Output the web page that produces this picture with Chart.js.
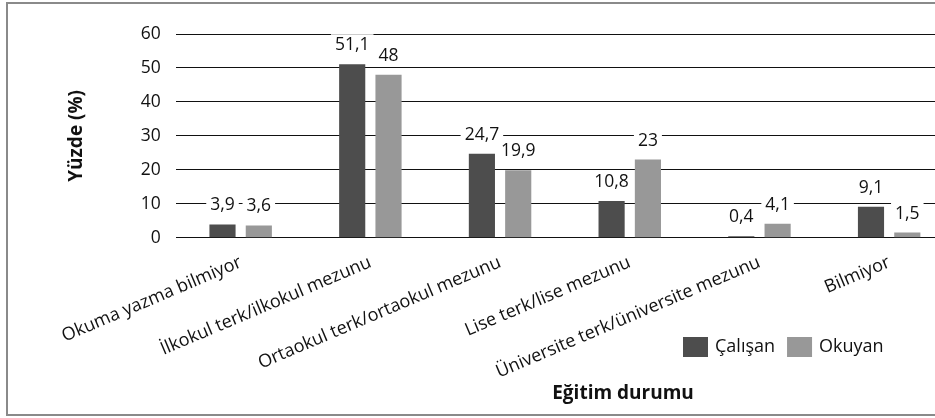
<!DOCTYPE html>
<html lang="tr">
<head>
<meta charset="utf-8">
<title>Eğitim durumu</title>
<script src="https://cdn.jsdelivr.net/npm/chart.js@4.4.1/dist/chart.umd.min.js"></script>
<style>
    html, body { margin: 0; padding: 0; background: #fff; overflow: hidden; }
    #frame {
        position: absolute; left: 6px; top: 2px;
        width: 962px; height: 414px;
        box-sizing: border-box;
        border: 2px solid #8a8a8a;
        background: #fff;
    }
    #chart { display: block; }
</style>
</head>
<body>
<div id="frame">
    <canvas id="chart" width="958" height="410"></canvas>
</div>
<script>
// --- DATA ---
const categories = [
    'Okuma yazma bilmiyor',
    'İlkokul terk/ilkokul mezunu',
    'Ortaokul terk/ortaokul mezunu',
    'Lise terk/lise mezunu',
    'Üniversite terk/üniversite mezunu',
    'Bilmiyor'
];
const seriesNames = ['Çalışan', 'Okuyan'];
const calisanValues = [3.9, 51.1, 24.7, 10.8, 0.4, 9.1];
const okuyanValues = [3.6, 48, 19.9, 23, 4.1, 1.5];
const yTicks = [0, 10, 20, 30, 40, 50, 60];

const FONT = '"Open Sans", "Noto Sans", sans-serif';
const TEXT_COLOR = '#111';

function formatValue(v) {
    return String(v).replace('.', ',');
}

// value labels above bars, on a white box so they cut the grid lines
const valueLabelPlugin = {
    id: 'valueLabels',
    afterDatasetsDraw(chart) {
        const ctx = chart.ctx;
        ctx.save();
        ctx.font = '17.5px ' + FONT;
        ctx.textAlign = 'center';
        ctx.textBaseline = 'middle';
        chart.data.datasets.forEach((ds, i) => {
            chart.getDatasetMeta(i).data.forEach((bar, j) => {
                const text = formatValue(ds.data[j]);
                const w = ctx.measureText(text).width;
                const y = bar.y - 20;
                ctx.fillStyle = '#fff';
                ctx.fillRect(bar.x - w / 2 - 4, y - 10, w + 8, 20);
                ctx.fillStyle = TEXT_COLOR;
                ctx.fillText(text, bar.x, y + 1);
            });
        });
        ctx.restore();
    }
};

// legend and x title sit inside the label area, as in the original
const extrasPlugin = {
    id: 'extras',
    afterDraw(chart) {
        const ctx = chart.ctx;
        ctx.save();
        ctx.font = '18px ' + FONT;
        ctx.textBaseline = 'middle';
        let x = 675;
        const y = 343;
        chart.data.datasets.forEach(ds => {
            ctx.fillStyle = ds.backgroundColor;
            ctx.fillRect(x, y - 10, 25, 20);
            ctx.fillStyle = TEXT_COLOR;
            ctx.textAlign = 'left';
            ctx.fillText(ds.label, x + 32, y);
            x += 32 + ctx.measureText(ds.label).width + 12;
        });
        ctx.font = 'bold 19px ' + FONT;
        ctx.textAlign = 'center';
        ctx.fillText('Eğitim durumu', 615, 390);
        ctx.restore();
    }
};

new Chart(document.getElementById('chart'), {
    type: 'bar',
    data: {
        labels: categories,
        datasets: [
            { label: seriesNames[0], data: calisanValues, backgroundColor: '#4d4d4d' },
            { label: seriesNames[1], data: okuyanValues, backgroundColor: '#989898' }
        ]
    },
    options: {
        responsive: false,
        animation: false,
        layout: { padding: { top: 30, right: 12, left: 57, bottom: 25 } },
        datasets: {
            bar: { categoryPercentage: 0.56, barPercentage: 0.72 }
        },
        scales: {
            x: {
                grid: { display: false },
                border: { display: false },
                ticks: {
                    color: TEXT_COLOR,
                    font: { family: FONT, size: 18 },
                    minRotation: 23,
                    maxRotation: 23,
                    autoSkip: false,
                    padding: 6
                }
            },
            y: {
                min: 0,
                max: 60,
                afterBuildTicks: scale => {
                    scale.ticks = yTicks.map(v => ({ value: v }));
                },
                grid: { color: '#111', lineWidth: 1, drawTicks: false },
                border: { display: false },
                ticks: {
                    color: TEXT_COLOR,
                    font: { family: FONT, size: 17.5 },
                    padding: 15
                },
                title: {
                    display: true,
                    text: 'Yüzde (%)',
                    color: TEXT_COLOR,
                    font: { family: FONT, size: 19, weight: 'bold' },
                    padding: { top: 0, bottom: 38 }
                }
            }
        },
        plugins: {
            legend: { display: false },
            tooltip: { enabled: false }
        }
    },
    plugins: [valueLabelPlugin, extrasPlugin]
});
</script>
</body>
</html>
